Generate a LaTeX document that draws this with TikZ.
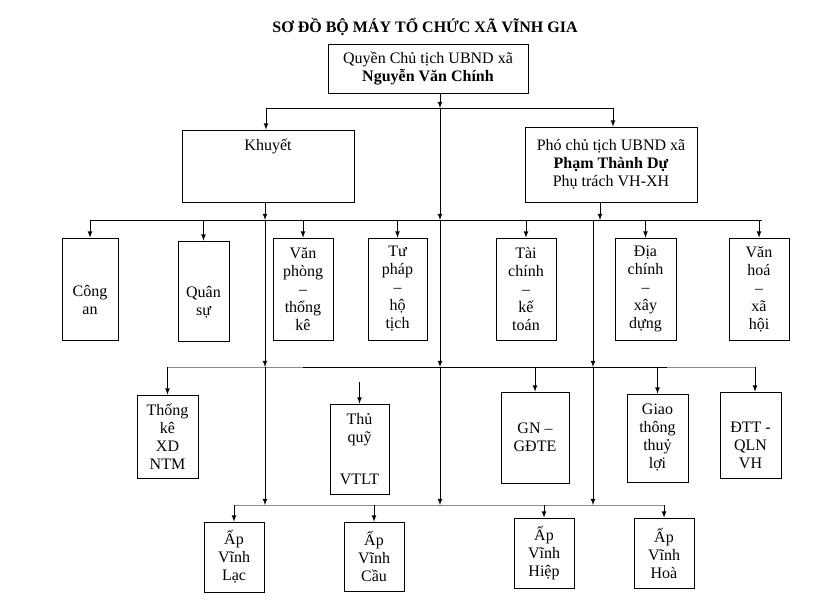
\documentclass[tikz,border=0pt]{standalone}
\usepackage{fontspec}
\setmainfont{Liberation Serif}
\usetikzlibrary{calc, positioning, shapes, arrows}

\begin{document}
\begin{tikzpicture}[x=0.75pt, y=-0.75pt, >=latex,
  box/.style={draw, line width=0.6pt, align=center, inner sep=0pt, font=\fontsize{12}{13.5}\selectfont},
  link/.style={line width=0.6pt},
  greylink/.style={line width=0.6pt, draw=black!45}]
\useasboundingbox (0,0) rectangle (837,602);
\node[font=\fontsize{12}{14}\selectfont\bfseries] (title) at (425,27) {SƠ ĐỒ BỘ MÁY TỔ CHỨC XÃ VĨNH GIA};
\node[box, minimum width=150pt, minimum height=36.75pt] (chutich) at (428,68.5) {Quyền Chủ tịch UBND xã\\\textbf{Nguyễn Văn Chính}};
\node[box, minimum width=129pt, minimum height=54pt] (khuyet) at (268,166) {Khuyết\\[18pt]~};
\node[box, minimum width=129pt, minimum height=56.25pt] (pho) at (611,164.5) {Phó chủ tịch UBND xã\\\textbf{Phạm Thành Dự}\\Phụ trách VH-XH};
\node[box, minimum width=42pt, minimum height=76.5pt] (congan) at (90,289) {~\\[12pt]Công\\an};
\node[box, minimum width=38.25pt, minimum height=75pt] (quansu) at (203.5,291) {~\\[12pt]Quân\\sự};
\node[box, minimum width=45pt, minimum height=76.5pt] (vanphong) at (303,289) {Văn\\phòng\\–\\thống\\kê};
\node[box, minimum width=44.25pt, minimum height=76.5pt] (tuphap) at (397.5,289) {Tư\\pháp\\–\\hộ\\tịch};
\node[box, minimum width=45pt, minimum height=76.5pt] (taichinh) at (526,289) {Tài\\chính\\–\\kế\\toán};
\node[box, minimum width=45.75pt, minimum height=76.5pt] (diachinh) at (645.5,289) {Địa\\chính\\–\\xây\\dựng};
\node[box, minimum width=45pt, minimum height=76.5pt] (vanhoa) at (759,289) {Văn\\hoá\\–\\xã\\hội};
\node[box, minimum width=45.75pt, minimum height=62.25pt] (thongke) at (167.5,436.5) {Thống\\kê\\XD\\NTM};
\node[box, minimum width=44.25pt, minimum height=67.5pt] (thuquy) at (359.5,449) {Thủ\\quỹ\\[18pt]VTLT};
\node[box, minimum width=51pt, minimum height=68.25pt] (gn) at (535,437.5) {GN –\\GĐTE};
\node[box, minimum width=45.75pt, minimum height=66pt] (giaothong) at (657.5,438) {Giao\\thông\\thuỷ\\lợi};
\node[box, minimum width=45.75pt, minimum height=64.5pt] (dtt) at (750.5,435) {~\\[10pt]ĐTT -\\QLN\\VH};
\node[box, minimum width=45pt, minimum height=52.5pt] (aplac) at (234,557) {Ấp\\Vĩnh\\Lạc};
\node[box, minimum width=45pt, minimum height=51.75pt] (apcau) at (374,556.5) {Ấp\\Vĩnh\\Cầu};
\node[box, minimum width=45pt, minimum height=52.5pt] (aphiep) at (544,553) {Ấp\\Vĩnh\\Hiệp};
\node[box, minimum width=45pt, minimum height=52.5pt] (aphoa) at (664,553) {Ấp\\Vĩnh\\Hoà};
\coordinate (a1) at (266,108);
\coordinate (a2) at (440,108);
\coordinate (a3) at (613,108);
\draw[link] (a1) -- (a3);
\draw[link,->] (chutich.south -| a2) -- (a2);
\draw[link,->] (a1) -- (khuyet.north -| a1);
\draw[link,->] (a3) -- (pho.north -| a3);
\coordinate (b0) at (90,220);
\coordinate (b1) at (265,220);
\coordinate (b2) at (440,220);
\coordinate (b3) at (600,220);
\coordinate (b4) at (593,220);
\coordinate (b9) at (762,220);
\draw[link] (b0) -- (b9);
\draw[link,->] (khuyet.south -| b1) -- (b1);
\draw[link,->] (a2) -- (b2);
\draw[link,->] (pho.south -| b3) -- (b3);
\foreach \n in {congan,quansu,vanphong,tuphap,taichinh,diachinh,vanhoa}
  \draw[link,->] (\n.north |- b0) -- (\n.north);
\coordinate (c0) at (167.5,367);
\coordinate (c1) at (265,367);
\coordinate (c2) at (440,367);
\coordinate (c3) at (593,367);
\coordinate (cg1) at (303,367);
\coordinate (cg2) at (667,367);
\coordinate (c9) at (755,367);
\coordinate (q0) at (359.5,382);
\draw[link,->] (b1) -- (c1);
\draw[link,->] (b2) -- (c2);
\draw[link,->] (b4) -- (c3);
\draw[greylink] (c0) -- (cg1);
\draw[link] (cg1) -- (cg2);
\draw[greylink] (cg2) -- (c9);
\draw[link,->] (c0) -- (thongke.north);
\draw[link,->] (q0) -- (thuquy.north);
\draw[link,->] (gn.north |- c0) -- (gn.north);
\draw[link,->] (giaothong.north |- c0) -- (giaothong.north);
\draw[link,->] (c9) -- (dtt.north -| c9);
\coordinate (d1) at (265,505);
\coordinate (d2) at (440,505);
\coordinate (d3) at (593,505);
\draw[link,->] (c1) -- (d1);
\draw[link,->] (c2) -- (d2);
\draw[link,->] (c3) -- (d3);
\draw[greylink] (aplac.north |- d1) -- (aphoa.north |- d1);
\foreach \n in {aplac,apcau,aphiep,aphoa}
  \draw[link,->] (\n.north |- d1) -- (\n.north);
\end{tikzpicture}
\end{document}
